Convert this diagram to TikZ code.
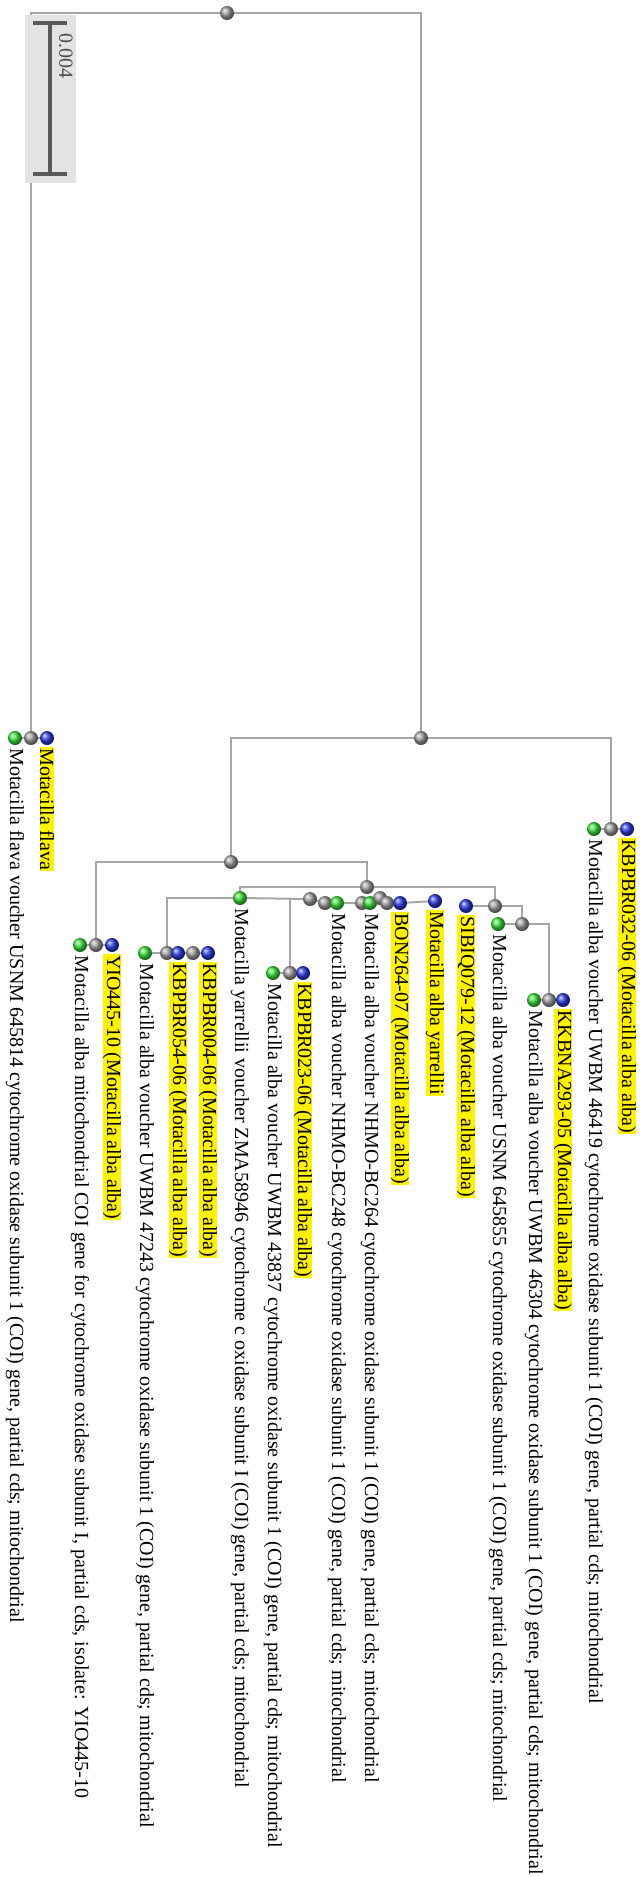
\documentclass[tikz,border=0pt]{standalone}
\usepackage{fontspec}
\setmainfont{Liberation Serif}
\usetikzlibrary{positioning,backgrounds}

\definecolor{leafgreen}{RGB}{60,225,60}
\definecolor{leafblue}{RGB}{45,60,225}

\begin{document}
\begin{tikzpicture}[
  x=1pt, y=-1pt,
  font=\fontsize{20}{24}\selectfont,
  ball/.style={circle, inner sep=0pt, minimum size=14pt, shading=ball},
  inode/.style={ball, ball color=gray!75},
  gleaf/.style={ball, ball color=leafgreen},
  bleaf/.style={ball, ball color=leafblue},
  branch/.style={draw=gray!70, line width=2pt},
  seqname/.style={rotate=-90, anchor=west, inner xsep=1pt, inner ysep=0pt},
  barcode/.style={seqname, fill=yellow},
]
  \useasboundingbox (0,0) rectangle (644,1877);

  % scale bar
  \fill[gray!22] (25,15) rectangle (76,183);
  \draw[line width=3.5pt, black!65] (50,23) -- (50,174);
  \draw[line width=3.5pt, black!65] (33,23) -- (67,23);
  \draw[line width=3.5pt, black!65] (33,174) -- (67,174);
  \node[seqname, text=black!70] (scalelbl) at (66,32) {0.004};

  % internal nodes
  \node[inode] (root) at (227,13) {};
  \node[inode] (ingroup) at (421,738) {};
  \node[inode] (albaclade) at (231,862) {};
  \node[inode] (core) at (367,887) {};
  \node[inode] (sib) at (495,906) {};
  \node[inode] (kkb) at (522,924) {};

  % Motacilla flava
  \node[gleaf] (flavag) at (15,738) {};
  \node[inode] (flavai) at (31,738) {};
  \node[bleaf] (flavab) at (47,738) {};
  \node[below=2pt of flavag, seqname] (flavagtxt) {Motacilla flava voucher USNM 645814 cytochrome oxidase subunit 1 (COI) gene, partial cds; mitochondrial};
  \node[below=2pt of flavab, barcode] (flavabtxt) {Motacilla flava};

  % KBPBR032-06
  \node[gleaf] (g032) at (594,829) {};
  \node[inode] (i032) at (611,829) {};
  \node[bleaf] (b032) at (627,829) {};
  \node[below=2pt of g032, seqname] (g032txt) {Motacilla alba voucher UWBM 46419 cytochrome oxidase subunit 1 (COI) gene, partial cds; mitochondrial};
  \node[below=2pt of b032, barcode] (b032txt) {KBPBR032-06 (Motacilla alba alba)};

  % YIO445-10
  \node[gleaf] (yiog) at (80,945) {};
  \node[inode] (yioi) at (96,945) {};
  \node[bleaf] (yiob) at (112,945) {};
  \node[below=2pt of yiog, seqname] (yiogtxt) {Motacilla alba mitochondrial COI gene for cytochrome oxidase subunit I, partial cds, isolate: YIO445-10};
  \node[below=2pt of yiob, barcode] (yiobtxt) {YIO445-10 (Motacilla alba alba)};

  % KBPBR054-06 / KBPBR004-06
  \node[gleaf] (w47243) at (145,953) {};
  \node[inode] (k054i) at (167,953) {};
  \node[bleaf] (k054b) at (178,953) {};
  \node[inode] (k004i) at (193,953) {};
  \node[bleaf] (k004b) at (208,953) {};
  \node[below=2pt of w47243, seqname] (w47243txt) {Motacilla alba voucher UWBM 47243 cytochrome oxidase subunit 1 (COI) gene, partial cds; mitochondrial};
  \node[below=2pt of k054b, barcode] (k054btxt) {KBPBR054-06 (Motacilla alba alba)};
  \node[below=2pt of k004b, barcode] (k004btxt) {KBPBR004-06 (Motacilla alba alba)};

  % KBPBR023-06
  \node[gleaf] (k023g) at (273,973) {};
  \node[inode] (k023i) at (290,973) {};
  \node[bleaf] (k023b) at (303,973) {};
  \node[below=2pt of k023g, seqname] (k023gtxt) {Motacilla alba voucher UWBM 43837 cytochrome oxidase subunit 1 (COI) gene, partial cds; mitochondrial};
  \node[below=2pt of k023b, barcode] (k023btxt) {KBPBR023-06 (Motacilla alba alba)};

  % yarrellii cluster
  \node[inode] (c1) at (310,899) {};
  \node[inode] (c2) at (325,903) {};
  \node[gleaf] (bc248) at (337,903) {};
  \node[inode] (c3) at (362,903) {};
  \node[gleaf] (bc264) at (370,903) {};
  \node[inode] (c4) at (380,898) {};
  \node[inode] (c5) at (387,903) {};
  \node[bleaf] (bon) at (400,903) {};
  \node[bleaf] (myarr) at (435,901) {};
  \node[gleaf] (zma) at (240,898) {};
  \node[below=2pt of zma, seqname] (zmatxt) {Motacilla yarrellii voucher ZMA58946 cytochrome c oxidase subunit I (COI) gene, partial cds; mitochondrial};
  \node[below=2pt of bc248, seqname] (bc248txt) {Motacilla alba voucher NHMO-BC248 cytochrome oxidase subunit 1 (COI) gene, partial cds; mitochondrial};
  \node[below=2pt of bc264, seqname] (bc264txt) {Motacilla alba voucher NHMO-BC264 cytochrome oxidase subunit 1 (COI) gene, partial cds; mitochondrial};
  \node[below=2pt of bon, barcode] (bontxt) {BON264-07 (Motacilla alba alba)};
  \node[below=2pt of myarr, barcode] (myarrtxt) {Motacilla alba yarrellii};

  % SIBIQ079-12, USNM 645855, KKBNA293-05
  \node[bleaf] (sibiq) at (466,906) {};
  \node[gleaf] (usnm) at (498,924) {};
  \node[gleaf] (kkbnag) at (534,1000) {};
  \node[inode] (kkbnai) at (549,1000) {};
  \node[bleaf] (kkbnab) at (563,1000) {};
  \node[below=2pt of sibiq, barcode] (sibiqtxt) {SIBIQ079-12 (Motacilla alba alba)};
  \node[below=2pt of usnm, seqname] (usnmtxt) {Motacilla alba voucher USNM 645855 cytochrome oxidase subunit 1 (COI) gene, partial cds; mitochondrial};
  \node[below=2pt of kkbnag, seqname] (kkbnagtxt) {Motacilla alba voucher UWBM 46304 cytochrome oxidase subunit 1 (COI) gene, partial cds; mitochondrial};
  \node[below=2pt of kkbnab, barcode] (kkbnabtxt) {KKBNA293-05 (Motacilla alba alba)};

  \begin{pgfonlayer}{background}
    \draw[branch] (root.center) -| (flavai.center);
    \draw[branch] (root.center) -| (ingroup.center);
    \draw[branch] (ingroup.center) -| (albaclade.center);
    \draw[branch] (ingroup.center) -| (i032.center);
    \draw[branch] (albaclade.center) -| (yioi.center);
    \draw[branch] (albaclade.center) -| (core.center);
    \draw[branch] (core.center) -| (zma.center);
    \draw[branch] (core.center) -| (sib.center);
    \draw[branch] (zma.center) -| (k054i.center);
    \draw[branch] (zma.center) -- (c1.center);
    \draw[branch] (c1.center) -| (k023i.center);
    \draw[branch] (c1.center) -- (c2.center) -- (bc248.center) -- (c3.center) -- (bc264.center) -- (c4.center) -- (c5.center) -- (bon.center) -- (myarr.center);
    \draw[branch] (sib.center) -- (sibiq.center);
    \draw[branch] (sib.center) -| (kkb.center);
    \draw[branch] (kkb.center) -- (usnm.center);
    \draw[branch] (kkb.center) -| (kkbnai.center);
    % leaf ties
    \draw[branch] (flavag.center) -- (flavab.center);
    \draw[branch] (g032.center) -- (b032.center);
    \draw[branch] (yiog.center) -- (yiob.center);
    \draw[branch] (w47243.center) -- (k004b.center);
    \draw[branch] (k023g.center) -- (k023b.center);
    \draw[branch] (kkbnag.center) -- (kkbnab.center);
  \end{pgfonlayer}
\end{tikzpicture}
\end{document}
